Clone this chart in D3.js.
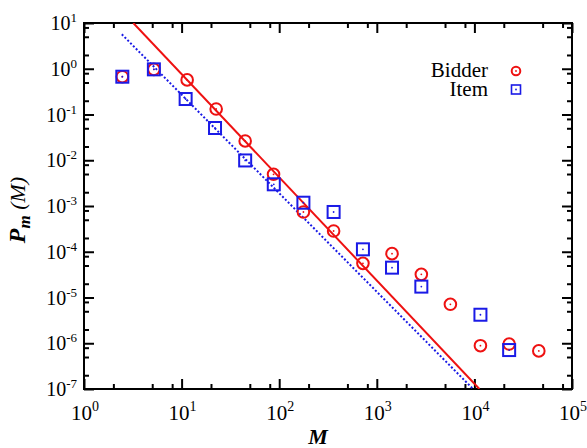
<!DOCTYPE html>
<html>
<head>
<meta charset="utf-8">
<script src="https://cdn.jsdelivr.net/npm/d3@7"></script>
<style>
  body { margin: 0; background: #fff; }
  svg { display: block; font-family: "Liberation Serif", "Times New Roman", serif; }
</style>
</head>
<body>
<div id="chart"></div>
<script>
// data
var mBidder = [2.47, 5.2, 11.4, 22.6, 44.8, 87.5, 177, 361, 721, 1432, 2860, 5675, 11530, 22700, 45700];
var pBidder = [0.67, 0.97, 0.57, 0.132, 0.0264, 0.00493, 0.00074, 0.000284, 0.0000558, 0.0000908, 0.0000321, 7.1e-6, 8.85e-7, 9.6e-7, 6.8e-7];
var mItem = [2.47, 5.2, 11, 22, 44.8, 88, 177, 361, 721, 1432, 2860, 11530, 22700];
var pItem = [0.67, 0.97, 0.218, 0.0507, 0.0099, 0.00298, 0.00118, 0.00074, 0.000113, 0.0000449, 0.0000173, 4.2e-6, 7.1e-7];
// power-law fits (end points)
var fitBidder = [[3.2, 10], [11250, 1e-7]];
var fitItem = [[2.44, 5.66], [9700, 1e-7]];
var xExp = [0, 1, 2, 3, 4, 5];
var yExp = [1, 0, -1, -2, -3, -4, -5, -6, -7];

var width = 587, height = 448;
var pLeft = 84, pRight = 572, pTop = 23, pBottom = 389;

var svg = d3.select("#chart").append("svg").attr("width", width).attr("height", height);

var x = d3.scaleLog().domain([1, 1e5]).range([pLeft, pRight]);
var y = d3.scaleLog().domain([1e-7, 10]).range([pBottom, pTop]);

var xMajor = xExp.map(function(e) { return Math.pow(10, e); });
var yMajor = yExp.map(function(e) { return Math.pow(10, e); });
function minors(lo, hi) {
  var out = [];
  for (var e = lo; e < hi; e++) {
    [2, 5, 8].forEach(function(k) { out.push(k * Math.pow(10, e)); });
  }
  return out;
}
var xMinor = minors(0, 5);
var yMinor = minors(-7, 1);

// ticks, inward on all four sides
function drawAxis(axis, tr) {
  var g = svg.append("g").attr("transform", tr).call(axis);
  g.select(".domain").remove();
  g.selectAll(".tick line").attr("stroke", "#000").attr("stroke-width", 2);
  g.selectAll(".tick text").remove();
}
drawAxis(d3.axisBottom(x).tickValues(xMajor).tickSize(-10), "translate(0," + pBottom + ")");
drawAxis(d3.axisBottom(x).tickValues(xMinor).tickSize(-5), "translate(0," + pBottom + ")");
drawAxis(d3.axisTop(x).tickValues(xMajor).tickSize(-10), "translate(0," + pTop + ")");
drawAxis(d3.axisTop(x).tickValues(xMinor).tickSize(-5), "translate(0," + pTop + ")");
drawAxis(d3.axisLeft(y).tickValues(yMajor).tickSize(-10), "translate(" + pLeft + ",0)");
drawAxis(d3.axisLeft(y).tickValues(yMinor).tickSize(-5), "translate(" + pLeft + ",0)");
drawAxis(d3.axisRight(y).tickValues(yMajor).tickSize(-10), "translate(" + pRight + ",0)");
drawAxis(d3.axisRight(y).tickValues(yMinor).tickSize(-5), "translate(" + pRight + ",0)");

svg.append("rect").attr("x", pLeft).attr("y", pTop)
  .attr("width", pRight - pLeft).attr("height", pBottom - pTop)
  .attr("fill", "none").attr("stroke", "#000").attr("stroke-width", 2);

// tick labels
xExp.forEach(function(e) {
  var t = svg.append("text").attr("x", x(Math.pow(10, e)) + 1).attr("y", 420)
    .attr("text-anchor", "middle").attr("font-size", 21);
  t.append("tspan").text("10");
  t.append("tspan").attr("dy", -9).attr("font-size", 14).text(e);
});
yExp.forEach(function(e) {
  var t = svg.append("text").attr("x", 77).attr("y", y(Math.pow(10, e)) + 7)
    .attr("text-anchor", "end").attr("font-size", 20);
  t.append("tspan").text("10");
  t.append("tspan").attr("dy", -8).attr("font-size", 13).text(e);
});

// axis titles
svg.append("text").attr("x", 318).attr("y", 444).attr("text-anchor", "middle")
  .attr("font-size", 22).attr("font-weight", "bold").attr("font-style", "italic").text("M");

var yt = svg.append("text").attr("transform", "translate(25,210) rotate(-90)")
  .attr("text-anchor", "middle").attr("font-size", 24).attr("font-style", "italic");
yt.append("tspan").attr("font-weight", "bold").text("P");
yt.append("tspan").attr("font-weight", "bold").attr("font-size", 17).attr("dy", 5).text("m");
yt.append("tspan").attr("dy", -5).attr("font-size", 22).text(" (M)");

// fit lines
svg.append("clipPath").attr("id", "clip").append("rect")
  .attr("x", pLeft).attr("y", pTop).attr("width", pRight - pLeft).attr("height", pBottom - pTop);
var line = d3.line().x(function(d) { return x(d[0]); }).y(function(d) { return y(d[1]); });

var red = "#ee1111", blue = "#1a1ae6";
svg.append("path").datum(fitItem).attr("d", line).attr("clip-path", "url(#clip)")
  .attr("fill", "none").attr("stroke", blue).attr("stroke-width", 2).attr("stroke-dasharray", "2,2");
svg.append("path").datum(fitBidder).attr("d", line).attr("clip-path", "url(#clip)")
  .attr("fill", "none").attr("stroke", red).attr("stroke-width", 2);

// markers
var bidderPts = mBidder.map(function(m, i) { return [m, pBidder[i]]; });
var itemPts = mItem.map(function(m, i) { return [m, pItem[i]]; });

var bg = svg.append("g");
bg.selectAll("circle.o").data(bidderPts).enter().append("circle")
  .attr("cx", function(d) { return x(d[0]); }).attr("cy", function(d) { return y(d[1]); })
  .attr("r", 5.8).attr("fill", "none").attr("stroke", red).attr("stroke-width", 2);
bg.selectAll("circle.dot").data(bidderPts).enter().append("circle")
  .attr("cx", function(d) { return x(d[0]); }).attr("cy", function(d) { return y(d[1]); })
  .attr("r", 0.9).attr("fill", red);

var ig = svg.append("g");
ig.selectAll("rect").data(itemPts).enter().append("rect")
  .attr("x", function(d) { return x(d[0]) - 6; }).attr("y", function(d) { return y(d[1]) - 6; })
  .attr("width", 12).attr("height", 12).attr("fill", "none").attr("stroke", blue).attr("stroke-width", 2);
ig.selectAll("circle").data(itemPts).enter().append("circle")
  .attr("cx", function(d) { return x(d[0]); }).attr("cy", function(d) { return y(d[1]); })
  .attr("r", 0.9).attr("fill", blue);

// legend
svg.append("text").attr("x", 488).attr("y", 77).attr("text-anchor", "end").attr("font-size", 21).text("Bidder");
svg.append("text").attr("x", 488).attr("y", 96).attr("text-anchor", "end").attr("font-size", 21).text("Item");
svg.append("circle").attr("cx", 516).attr("cy", 71).attr("r", 4.3)
  .attr("fill", "none").attr("stroke", red).attr("stroke-width", 2);
svg.append("circle").attr("cx", 516).attr("cy", 71).attr("r", 0.9).attr("fill", red);
svg.append("rect").attr("x", 511.5).attr("y", 85).attr("width", 9).attr("height", 9)
  .attr("fill", "none").attr("stroke", blue).attr("stroke-width", 1.6);
svg.append("circle").attr("cx", 516).attr("cy", 89.5).attr("r", 0.9).attr("fill", blue);
</script>
</body>
</html>
